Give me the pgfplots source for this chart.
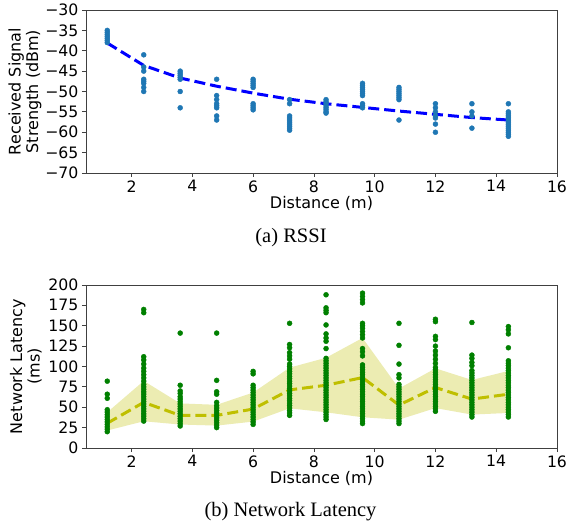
\documentclass[border=0pt]{standalone}
\usepackage{fontspec}
\setmainfont{Liberation Serif}
\newfontfamily\dejavu{DejaVu Sans}
\usepackage{pgfplots}
\pgfplotsset{compat=1.18}
\definecolor{mplblue}{RGB}{31,119,180}
\definecolor{mplgreen}{RGB}{0,128,0}
\definecolor{mplyellow}{RGB}{191,191,0}
\definecolor{spine}{RGB}{64,64,64}

\pgfplotsset{
  mpl/.style={
    scale only axis, width=471pt, height=163pt,
    xmin=0.5, xmax=16, xtick={2,4,6,8,10,12,14,16},
    tick align=outside, tick pos=left, major tick length=4pt,
    axis line style={spine, line width=0.8pt},
    tick style={spine, line width=0.8pt},
    /pgf/number format/assume math mode=true,
    every tick label/.append style={font=\dejavu\fontsize{15.7}{17}\selectfont},
    label style={font=\dejavu\fontsize{16}{17.5}\selectfont},
    ylabel style={align=center},
    xlabel={Distance (m)},
    xlabel style={yshift=3pt},
  },
}

\begin{document}
\begin{tikzpicture}
\path[use as bounding box] (0,0) rectangle (571pt,-527pt);

% (a) RSSI
\begin{axis}[mpl, at={(86pt,-10pt)}, anchor=north west,
  ymin=-70, ymax=-30, ytick={-70,-65,-60,-55,-50,-45,-40,-35,-30},
  yticklabels={−70,−65,−60,−55,−50,−45,−40,−35,−30},
  ylabel={Received Signal\\Strength (dBm)},
  ylabel style={yshift=-3pt}]
\addplot[only marks, mark=*, mark size=2.5pt, color=mplblue] coordinates {
 (1.2,-35) (1.2,-35.5) (1.2,-36) (1.2,-36.5) (1.2,-37) (1.2,-37.5) (1.2,-38)
 (2.4,-41) (2.4,-44) (2.4,-45) (2.4,-47) (2.4,-47.5) (2.4,-48) (2.4,-49) (2.4,-50)
 (3.6,-45) (3.6,-45.5) (3.6,-46) (3.6,-46.5) (3.6,-47) (3.6,-50) (3.6,-54)
 (4.8,-47) (4.8,-51) (4.8,-52) (4.8,-53) (4.8,-53.5) (4.8,-54) (4.8,-56) (4.8,-57)
 (6,-47) (6,-47.5) (6,-48) (6,-48.5) (6,-49) (6,-53) (6,-53.5) (6,-54) (6,-54.5)
 (7.2,-52) (7.2,-53) (7.2,-56) (7.2,-56.5) (7.2,-57) (7.2,-57.5) (7.2,-58) (7.2,-58.5) (7.2,-59) (7.2,-59.5)
 (8.4,-52) (8.4,-52.5) (8.4,-53) (8.4,-53.5) (8.4,-54) (8.4,-54.5) (8.4,-55) (8.4,-55.3)
 (9.6,-48) (9.6,-48.5) (9.6,-49) (9.6,-49.5) (9.6,-50) (9.6,-50.5) (9.6,-51) (9.6,-53) (9.6,-53.5) (9.6,-54)
 (10.8,-49) (10.8,-49.5) (10.8,-50) (10.8,-50.5) (10.8,-51) (10.8,-51.5) (10.8,-52) (10.8,-57)
 (12,-53) (12,-54) (12,-55) (12,-56) (12,-56.5) (12,-58) (12,-60)
 (13.2,-53) (13.2,-55) (13.2,-56) (13.2,-59)
 (14.4,-53) (14.4,-55) (14.4,-55.5) (14.4,-56) (14.4,-56.5) (14.4,-57) (14.4,-57.5) (14.4,-58) (14.4,-58.5) (14.4,-59) (14.4,-59.5) (14.4,-60) (14.4,-60.5) (14.4,-61)
};
\addplot[color=blue, line width=3pt, dash pattern=on 11pt off 5pt] coordinates {
 (1.2,-38.1) (2.4,-43.6) (3.6,-46.7) (4.8,-48.7) (6,-50.4) (7.2,-51.9)
 (8.4,-53) (9.6,-53.9) (10.8,-54.8) (12,-55.6) (13.2,-56.4) (14.4,-57)
};
\end{axis}
\node at (291pt,-237.5pt) {\fontsize{20.5}{22}\selectfont (a) RSSI};

% (b) Network latency
\begin{axis}[mpl, at={(86pt,-285pt)}, anchor=north west,
  ymin=0, ymax=200, ytick={0,25,50,75,100,125,150,175,200},
  ylabel={Network Latency\\(ms)}]
\addplot[fill=mplyellow, fill opacity=0.3, draw=none] coordinates {
 (1.2,43.8) (2.4,82.3) (3.6,54.7) (4.8,53) (6,68) (7.2,98.6) (8.4,110.7)
 (9.6,135) (10.8,73) (12,97.7) (13.2,83.5) (14.4,94.5)
 (14.4,43) (13.2,41) (12,49) (10.8,34.8) (9.6,37.7) (8.4,43.8) (7.2,48.7)
 (6,32.4) (4.8,27.5) (3.6,28.8) (2.4,32.8) (1.2,21.5)
} -- cycle;
\addplot[only marks, mark=*, mark size=2.5pt, color=mplgreen] coordinates {
 (1.2,20) (1.2,23) (1.2,26) (1.2,29) (1.2,32) (1.2,35) (1.2,38) (1.2,41) (1.2,44) (1.2,47) (1.2,61) (1.2,66) (1.2,82)
 (2.4,33) (2.4,36) (2.4,39) (2.4,42) (2.4,45) (2.4,48) (2.4,51) (2.4,54) (2.4,57) (2.4,60) (2.4,63) (2.4,66) (2.4,69) (2.4,72) (2.4,75) (2.4,78) (2.4,82) (2.4,86) (2.4,90) (2.4,94) (2.4,98) (2.4,103) (2.4,108) (2.4,112) (2.4,166) (2.4,170)
 (3.6,27) (3.6,30) (3.6,33) (3.6,36) (3.6,39) (3.6,42) (3.6,45) (3.6,48) (3.6,51) (3.6,54) (3.6,57) (3.6,60) (3.6,63) (3.6,67) (3.6,70) (3.6,77) (3.6,141)
 (4.8,25) (4.8,28) (4.8,31) (4.8,34) (4.8,37) (4.8,40) (4.8,43) (4.8,46) (4.8,49) (4.8,52) (4.8,56) (4.8,66) (4.8,69) (4.8,83) (4.8,141)
 (6,29) (6,32) (6,35) (6,38) (6,41) (6,44) (6,47) (6,50) (6,53) (6,56) (6,59) (6,62) (6,65) (6,68) (6,71) (6,74) (6,77) (6,91) (6,94)
 (7.2,40) (7.2,43) (7.2,46) (7.2,49) (7.2,52) (7.2,55) (7.2,58) (7.2,61) (7.2,64) (7.2,67) (7.2,70) (7.2,73) (7.2,76) (7.2,79) (7.2,82) (7.2,85) (7.2,88) (7.2,91) (7.2,94) (7.2,97) (7.2,100) (7.2,103) (7.2,109) (7.2,113) (7.2,117) (7.2,123) (7.2,127) (7.2,153)
 (8.4,35) (8.4,38) (8.4,41) (8.4,44) (8.4,47) (8.4,50) (8.4,53) (8.4,56) (8.4,59) (8.4,62) (8.4,65) (8.4,68) (8.4,71) (8.4,74) (8.4,77) (8.4,80) (8.4,83) (8.4,86) (8.4,89) (8.4,92) (8.4,95) (8.4,98) (8.4,101) (8.4,104) (8.4,107) (8.4,110) (8.4,122) (8.4,131) (8.4,135) (8.4,140) (8.4,151) (8.4,166) (8.4,169) (8.4,172) (8.4,188)
 (9.6,30) (9.6,33) (9.6,36) (9.6,39) (9.6,42) (9.6,45) (9.6,48) (9.6,51) (9.6,54) (9.6,57) (9.6,60) (9.6,63) (9.6,66) (9.6,69) (9.6,72) (9.6,75) (9.6,78) (9.6,81) (9.6,84) (9.6,87) (9.6,90) (9.6,93) (9.6,96) (9.6,99) (9.6,102) (9.6,113) (9.6,118) (9.6,122) (9.6,135) (9.6,139) (9.6,143) (9.6,147) (9.6,150) (9.6,153) (9.6,178) (9.6,182) (9.6,186) (9.6,190)
 (10.8,30) (10.8,33) (10.8,36) (10.8,39) (10.8,42) (10.8,45) (10.8,48) (10.8,51) (10.8,54) (10.8,57) (10.8,60) (10.8,63) (10.8,66) (10.8,69) (10.8,72) (10.8,75) (10.8,78) (10.8,86) (10.8,90) (10.8,103) (10.8,126) (10.8,153)
 (12,45) (12,48) (12,51) (12,54) (12,57) (12,60) (12,63) (12,66) (12,69) (12,72) (12,75) (12,78) (12,81) (12,84) (12,87) (12,90) (12,93) (12,96) (12,99) (12,104) (12,109) (12,114) (12,119) (12,125) (12,133) (12,137) (12,155) (12,158)
 (13.2,38) (13.2,41) (13.2,44) (13.2,47) (13.2,50) (13.2,53) (13.2,56) (13.2,59) (13.2,62) (13.2,65) (13.2,68) (13.2,71) (13.2,74) (13.2,77) (13.2,80) (13.2,83) (13.2,86) (13.2,89) (13.2,92) (13.2,95) (13.2,101) (13.2,105) (13.2,110) (13.2,114) (13.2,154)
 (14.4,38) (14.4,41) (14.4,44) (14.4,47) (14.4,50) (14.4,53) (14.4,56) (14.4,59) (14.4,62) (14.4,65) (14.4,68) (14.4,71) (14.4,74) (14.4,77) (14.4,80) (14.4,83) (14.4,86) (14.4,89) (14.4,92) (14.4,95) (14.4,98) (14.4,101) (14.4,104) (14.4,107) (14.4,123) (14.4,140) (14.4,145) (14.4,149)
};
\addplot[color=mplyellow, line width=3pt, dash pattern=on 11pt off 5pt] coordinates {
 (1.2,30.4) (2.4,56) (3.6,40) (4.8,40) (6,47.8) (7.2,71.3) (8.4,77)
 (9.6,86.4) (10.8,52.7) (12,74.2) (13.2,60) (14.4,66)
};
\end{axis}
\node at (290.5pt,-511.5pt) {\fontsize{20.5}{22}\selectfont (b) Network Latency};
\end{tikzpicture}
\end{document}
